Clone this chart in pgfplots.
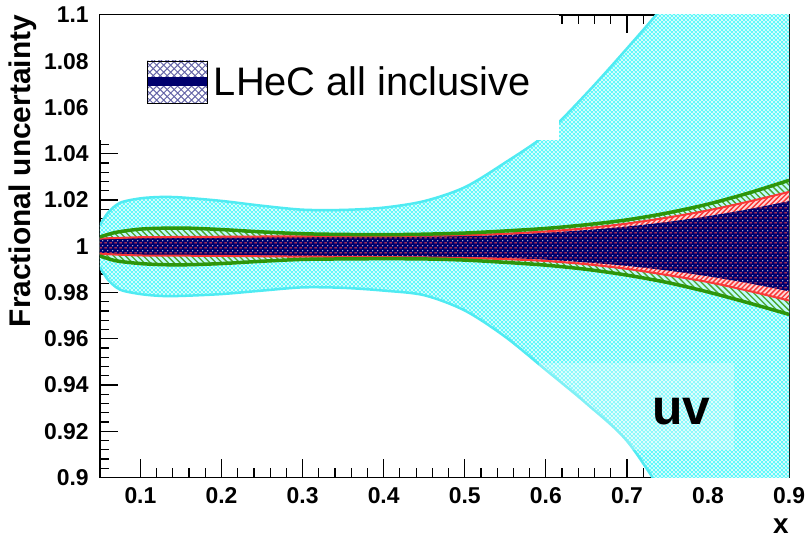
\documentclass[border=0pt]{standalone}
\usepackage{pgfplots}
\pgfplotsset{compat=1.18}
\usepackage{pgfplotstable}
\usepgfplotslibrary{fillbetween}
\usetikzlibrary{patterns}
\usepackage{fontspec}
\setmainfont{Liberation Sans}

\definecolor{bandcyan}{RGB}{95,248,250}
\definecolor{edgecyan}{RGB}{80,235,242}
\definecolor{pdfgreen}{RGB}{45,150,10}
\definecolor{pdfred}{RGB}{250,55,55}
\definecolor{pdfnavy}{RGB}{0,0,110}

% fill patterns
\pgfdeclarepatternformonly{fineDots}{\pgfqpoint{0pt}{0pt}}{\pgfqpoint{4pt}{4pt}}{\pgfqpoint{4pt}{4pt}}{%
  \pgfpathcircle{\pgfqpoint{1pt}{1pt}}{1.05pt}%
  \pgfpathcircle{\pgfqpoint{3pt}{3pt}}{1.05pt}%
  \pgfusepath{fill}}
\pgfdeclarepatternformonly{diagCross}{\pgfqpoint{-1pt}{-1pt}}{\pgfqpoint{8pt}{8pt}}{\pgfqpoint{7pt}{7pt}}{%
  \pgfsetlinewidth{1pt}%
  \pgfpathmoveto{\pgfqpoint{-0.1pt}{-0.1pt}}\pgfpathlineto{\pgfqpoint{7.1pt}{7.1pt}}%
  \pgfpathmoveto{\pgfqpoint{-0.1pt}{7.1pt}}\pgfpathlineto{\pgfqpoint{7.1pt}{-0.1pt}}%
  \pgfusepath{stroke}}
\pgfdeclarepatternformonly{slantLines}{\pgfqpoint{-1pt}{-1pt}}{\pgfqpoint{7pt}{7pt}}{\pgfqpoint{6pt}{6pt}}{%
  \pgfsetlinewidth{1.3pt}%
  \pgfpathmoveto{\pgfqpoint{-0.1pt}{6.1pt}}\pgfpathlineto{\pgfqpoint{6.1pt}{-0.1pt}}%
  \pgfusepath{stroke}}
\pgfdeclarepatternformonly{riseLines}{\pgfqpoint{-1pt}{-1pt}}{\pgfqpoint{6pt}{6pt}}{\pgfqpoint{5pt}{5pt}}{%
  \pgfsetlinewidth{1.4pt}%
  \pgfpathmoveto{\pgfqpoint{-0.1pt}{-0.1pt}}\pgfpathlineto{\pgfqpoint{5.1pt}{5.1pt}}%
  \pgfusepath{stroke}}
\pgfdeclarepatternformonly{dashRows}{\pgfqpoint{0pt}{0pt}}{\pgfqpoint{5pt}{5pt}}{\pgfqpoint{5pt}{5pt}}{%
  \pgfpathrectangle{\pgfqpoint{0.4pt}{0.6pt}}{\pgfqpoint{2.4pt}{1.1pt}}%
  \pgfusepath{fill}}
\pgfdeclarepatternformonly{dotRows}{\pgfqpoint{0pt}{0pt}}{\pgfqpoint{5pt}{5pt}}{\pgfqpoint{5pt}{5pt}}{%
  \pgfpathcircle{\pgfqpoint{3.8pt}{3.3pt}}{0.6pt}%
  \pgfusepath{fill}}

% uncertainty bands: x, lower edge, upper edge
\pgfplotstableread{
x     lo     hi
0.050 0.9910 1.0090
0.060 0.9855 1.0145
0.075 0.9812 1.0188
0.100 0.9793 1.0207
0.125 0.9785 1.0213
0.150 0.9785 1.0211
0.200 0.9793 1.0196
0.250 0.9808 1.0175
0.300 0.9822 1.0158
0.350 0.9820 1.0157
0.400 0.9808 1.0167
0.450 0.9788 1.0195
0.500 0.9722 1.0255
0.550 0.9608 1.0362
0.600 0.9465 1.0483
0.650 0.9320 1.0660
0.700 0.9158 1.0855
0.750 0.8900 1.1060
0.800 0.8620 1.1300
0.850 0.8300 1.1580
0.900 0.8000 1.1900
}\cyanband

\pgfplotstableread{
x    lo     hi
0.05 0.9958 1.0040
0.07 0.9937 1.0060
0.10 0.9925 1.0074
0.13 0.9920 1.0078
0.16 0.9920 1.0078
0.20 0.9925 1.0072
0.25 0.9935 1.0062
0.30 0.9943 1.0054
0.35 0.9945 1.0051
0.40 0.9946 1.0050
0.45 0.9945 1.0052
0.50 0.9940 1.0057
0.55 0.9930 1.0066
0.60 0.9918 1.0077
0.65 0.9900 1.0093
0.70 0.9875 1.0114
0.75 0.9843 1.0144
0.80 0.9802 1.0182
0.85 0.9755 1.0230
0.90 0.9705 1.0285
}\greenband

\pgfplotstableread{
x    lo     hi
0.05 0.9967 1.0033
0.10 0.9960 1.0039
0.15 0.9959 1.0040
0.20 0.9958 1.0041
0.30 0.9955 1.0043
0.40 0.9953 1.0044
0.50 0.9949 1.0048
0.55 0.9944 1.0054
0.60 0.9936 1.0064
0.65 0.9922 1.0078
0.70 0.9902 1.0098
0.75 0.9875 1.0124
0.80 0.9845 1.0155
0.85 0.9807 1.0193
0.90 0.9765 1.0235
}\redband

\pgfplotstableread{
x    lo     hi
0.05 0.9970 1.0030
0.10 0.9963 1.0036
0.15 0.9962 1.0037
0.20 0.9961 1.0038
0.30 0.9958 1.0040
0.40 0.9956 1.0041
0.50 0.9953 1.0044
0.55 0.9949 1.0049
0.60 0.9942 1.0058
0.65 0.9930 1.0070
0.70 0.9915 1.0085
0.75 0.9895 1.0105
0.80 0.9870 1.0130
0.85 0.9840 1.0160
0.90 0.9805 1.0195
}\navyband

\begin{document}
\begin{tikzpicture}
\begin{axis}[
  name=main,
  scale only axis,
  width=690bp, height=463bp,
  clip bounding box=upper bound,
  xmin=0.05, xmax=0.9, ymin=0.9, ymax=1.1,
  xtick={0.1,0.2,0.3,0.4,0.5,0.6,0.7,0.8,0.9},
  xticklabels={0.1,0.2,0.3,0.4,0.5,0.6,0.7,0.8,0.9},
  ytick={0.9,0.92,0.94,0.96,0.98,1,1.02,1.04,1.06,1.08,1.1},
  yticklabels={0.9,0.92,0.94,0.96,0.98,1,1.02,1.04,1.06,1.08,1.1},
  minor x tick num=4, minor y tick num=4,
  tick align=inside,
  major tick length=18bp, minor tick length=9bp,
  tick style={black, line width=1.2bp},
  axis line style={black, line width=1.5bp},
  tick label style={font=\fontsize{23}{25}\selectfont\bfseries},
  xticklabel style={anchor=north, inner sep=0pt, yshift=-10bp},
  yticklabel style={anchor=east, inner sep=0pt, xshift=-11bp},
  xlabel={x},
  xlabel style={at={(axis description cs:0.988,-0.105)}, anchor=center,
    inner sep=0pt, font=\fontsize{28}{30}\selectfont\bfseries},
  ylabel={Fractional uncertainty},
  ylabel style={at={(axis description cs:-0.091,1)}, anchor=south east,
    inner sep=0pt, font=\fontsize{30}{32}\selectfont\bfseries},
  legend style={at={(0.0623,0.8553)}, anchor=west, draw=none, fill=none,
    inner sep=0pt, font=\fontsize{40}{44}\selectfont},
  legend cell align=left,
]
\addlegendimage{legend image code/.code={
  \fill[white] (0bp,-21bp) rectangle (60bp,21bp);
  \fill[pattern=diagCross, pattern color=pdfnavy!60] (0bp,-21bp) rectangle (60bp,21bp);
  \draw[pdfnavy, line width=9bp] (0bp,0bp) -- (60bp,0bp);
}}
\addlegendentry{LHeC all inclusive}

% outer (cyan) band
\addplot[name path=cl, draw=none, smooth] table[x=x,y=lo] {\cyanband};
\addplot[name path=cu, draw=none, smooth] table[x=x,y=hi] {\cyanband};
\addplot[fill=bandcyan, draw=none] fill between[of=cu and cl];
\addplot[pattern=fineDots, pattern color=white, draw=none] fill between[of=cu and cl];
\addplot[edgecyan, line width=2.5bp, smooth] table[x=x,y=lo] {\cyanband};
\addplot[edgecyan, line width=2.5bp, smooth] table[x=x,y=hi] {\cyanband};

% backing of the legend box
\fill[white] (axis cs:0.05,1.0458) rectangle (axis cs:0.6167,1.1);
% lighter patch behind the label
\fill[white, opacity=0.28] (axis cs:0.592,0.9119) rectangle (axis cs:0.832,0.9495);

% green band
\addplot[name path=gl, draw=none, smooth] table[x=x,y=lo] {\greenband};
\addplot[name path=gu, draw=none, smooth] table[x=x,y=hi] {\greenband};
\addplot[fill=white!60!bandcyan, draw=none] fill between[of=gu and gl];
\addplot[pattern=slantLines, pattern color=pdfgreen!85!white, draw=none] fill between[of=gu and gl];

% red band
\addplot[name path=rl, draw=none, smooth] table[x=x,y=lo] {\redband};
\addplot[name path=ru, draw=none, smooth] table[x=x,y=hi] {\redband};
\addplot[fill=white!80!pdfred, draw=none] fill between[of=ru and rl];
\addplot[pattern=riseLines, pattern color=pdfred, draw=none] fill between[of=ru and rl];

% navy band
\addplot[name path=nl, draw=none, smooth] table[x=x,y=lo] {\navyband};
\addplot[name path=nu, draw=none, smooth] table[x=x,y=hi] {\navyband};
\addplot[fill=pdfnavy, draw=none] fill between[of=nu and nl];
\addplot[pattern=dashRows, pattern color=pdfred!90!white, draw=none] fill between[of=nu and nl];
\addplot[pattern=dotRows, pattern color=white!90!pdfnavy, draw=none] fill between[of=nu and nl];

% band edges
\addplot[pdfred, line width=2bp, smooth] table[x=x,y=lo] {\redband};
\addplot[pdfred, line width=2bp, smooth] table[x=x,y=hi] {\redband};
\addplot[pdfgreen, line width=3.5bp, smooth] table[x=x,y=lo] {\greenband};
\addplot[pdfgreen, line width=3.5bp, smooth] table[x=x,y=hi] {\greenband};

\node[font=\fontsize{50}{55}\selectfont\bfseries, anchor=base, inner sep=0pt]
  at (axis cs:0.767,0.9227) {uv};
\end{axis}
% page margins around the frame
\path (main.south west) ++(-100bp,-65bp);
\path (main.north east) ++(15bp,15bp);
\end{tikzpicture}
\end{document}
